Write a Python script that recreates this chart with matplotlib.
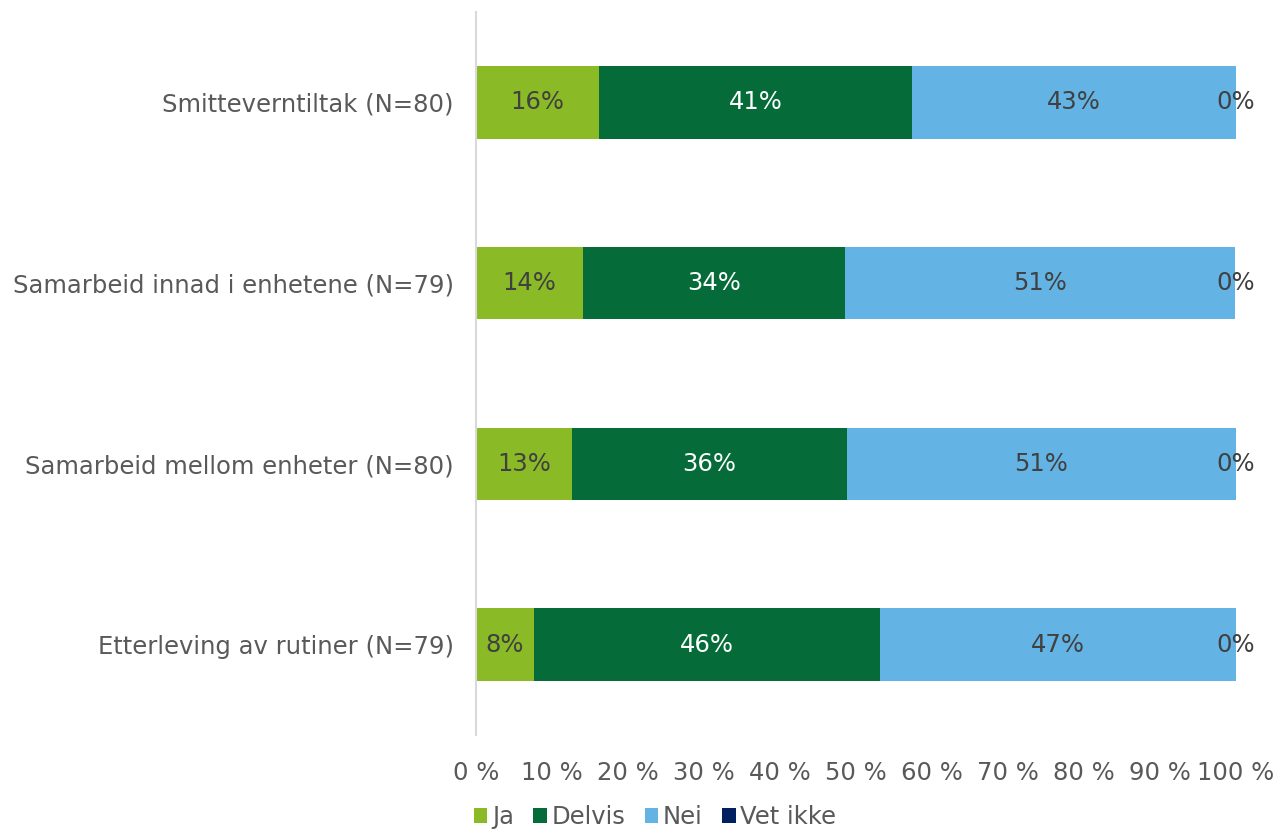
import matplotlib
matplotlib.use("Agg")
import matplotlib.pyplot as plt
import numpy as np

categories = ["Smitteverntiltak (N=80)", "Samarbeid innad i enhetene (N=79)",
              "Samarbeid mellom enheter (N=80)", "Etterleving av rutiner (N=79)"]
series_names = ["Ja", "Delvis", "Nei", "Vet ikke"]
ja = [16.2, 14.1, 12.6, 7.6]
delvis = [41.2, 34.4, 36.2, 45.6]
nei = [42.6, 51.4, 51.2, 46.8]
vet_ikke = [0, 0, 0, 0]
x_ticks = [0, 10, 20, 30, 40, 50, 60, 70, 80, 90, 100]
x_ticklabels = ["0 %", "10 %", "20 %", "30 %", "40 %", "50 %", "60 %", "70 %", "80 %", "90 %", "100 %"]

colors = ["#8ABB27", "#056C39", "#63B4E4", "#002060"]
label_colors = ["#404040", "#FFFFFF", "#404040", "#404040"]

FS = 17.5
plt.rcParams['font.family'] = ['DejaVu Sans']
fig = plt.figure(figsize=(12.76, 8.32), dpi=100)
ax = fig.add_axes([476/1276, 1-735/832, 760/1276, 723/832])

y = np.arange(len(categories))
left = np.zeros(len(categories))
handles = []
for vals, name, c, lc in zip([ja, delvis, nei, vet_ikke], series_names, colors, label_colors):
    vals = np.array(vals, dtype=float)
    b = ax.barh(y, vals, left=left, height=0.4, color=c, label=name)
    handles.append(b)
    for yi, (l, v) in enumerate(zip(left, vals)):
        ax.text(l + v/2, yi, f"{v:.0f}%", ha="center", va="center",
                color=lc, fontsize=FS)
    left = left + vals

ax.set_ylim(len(categories) - 0.5, -0.5)
ax.set_xlim(0, 100)
ax.set_yticks(y)
ax.set_yticklabels(categories, fontsize=FS, color="#595959")
ax.set_xticks(x_ticks)
ax.set_xticklabels(x_ticklabels, fontsize=FS, color="#595959")
ax.tick_params(axis="both", length=0)
ax.tick_params(axis="y", pad=16)
ax.tick_params(axis="x", pad=19)
for s in ["top", "right", "bottom"]:
    ax.spines[s].set_visible(False)
ax.spines["left"].set_color("#D9D9D9")
ax.spines["left"].set_linewidth(1.5)

fig.legend(handles=handles, labels=series_names, loc="center",
           bbox_to_anchor=(655/1276, 1-817/832), ncol=4, frameon=False,
           fontsize=FS, handlelength=0.55, handleheight=0.55, handletextpad=0.2,
           columnspacing=0.8, labelcolor="#595959", borderpad=0)

fig.savefig("out.png", dpi=100)
